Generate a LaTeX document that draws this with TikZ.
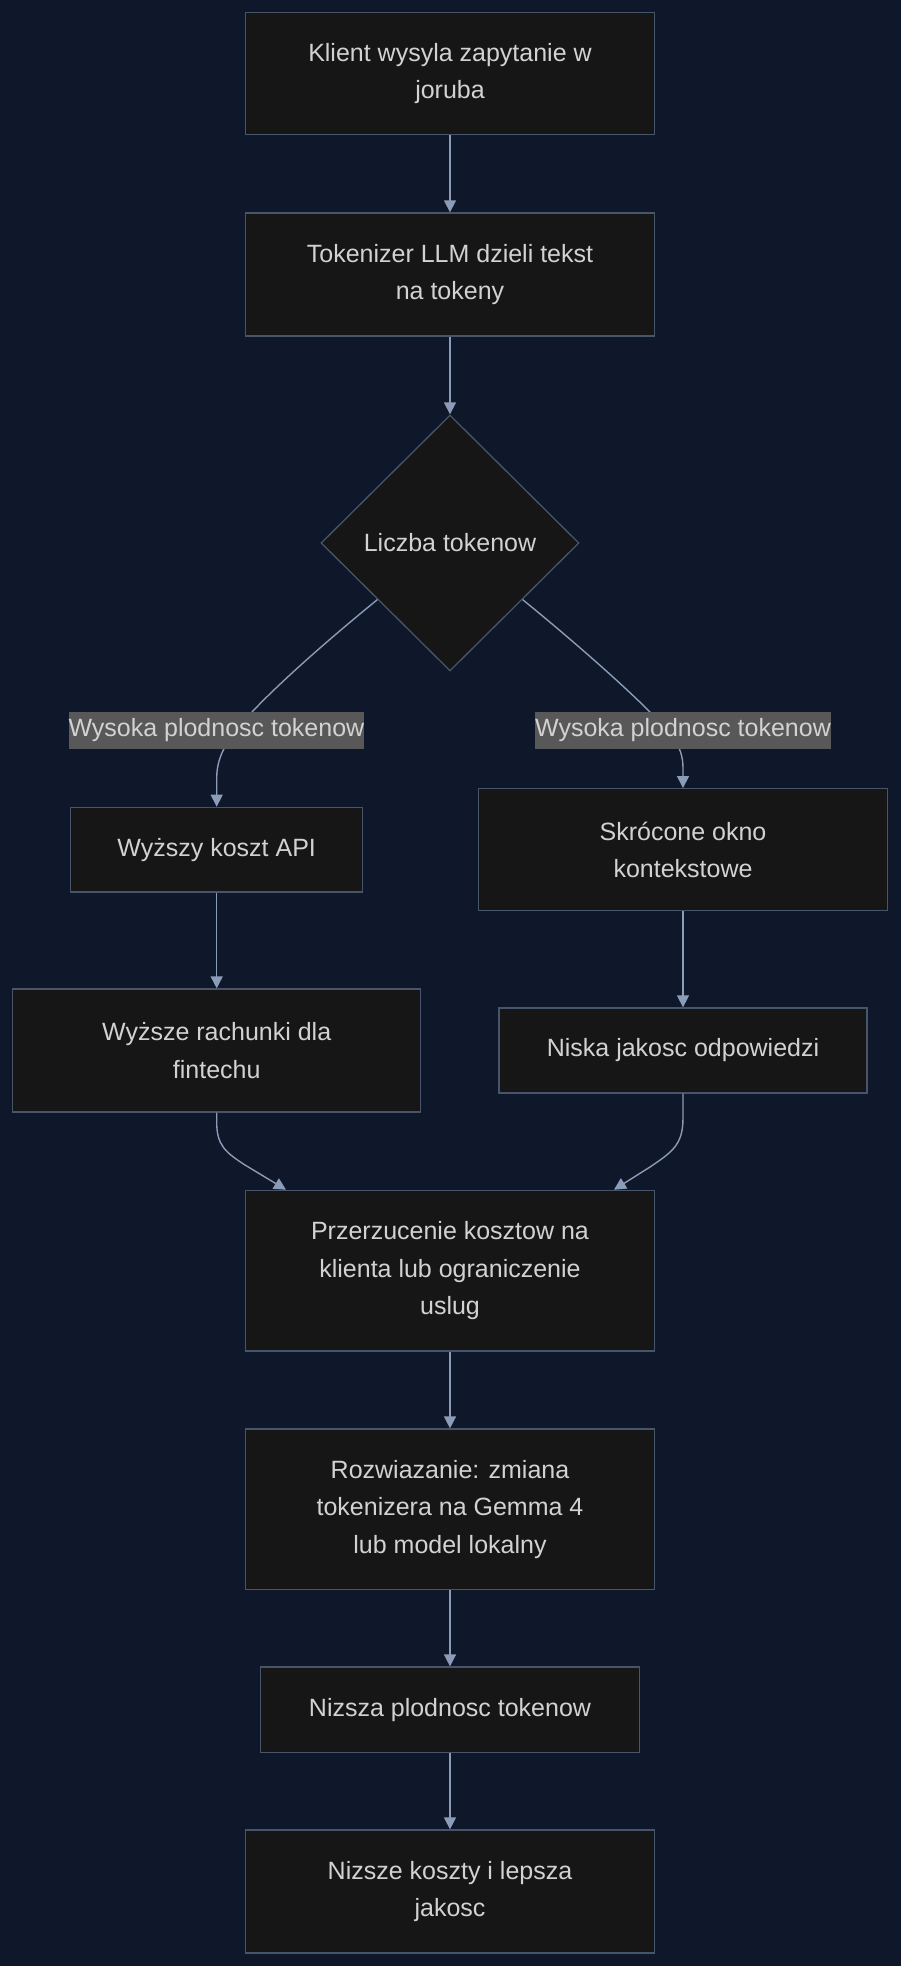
\documentclass[tikz,border=0pt]{standalone}
\usepackage{fontspec}
\setmainfont{Liberation Sans}
\usetikzlibrary{shapes.geometric,arrows.meta,calc}
\definecolor{bgcol}{RGB}{15,23,42}
\definecolor{nodefill}{RGB}{22,22,22}
\definecolor{bordercol}{RGB}{70,85,105}
\definecolor{edgecol}{RGB}{139,156,184}
\definecolor{textcol}{RGB}{210,210,210}
\definecolor{labelfill}{RGB}{88,88,88}
\tikzset{
  box/.style={draw=bordercol, fill=nodefill, line width=1.3pt, align=center,
    text=textcol, inner sep=0pt, font=\fontsize{25}{37.5}\selectfont},
  decision/.style={box, diamond, aspect=1},
  elabel/.style={fill=labelfill, text=textcol, inner xsep=0pt, inner ysep=0pt,
    minimum height=37pt, font=\fontsize{25}{30}\selectfont},
  conn/.style={draw=edgecol, line width=1.4pt, -{Triangle[length=12pt,width=12pt]}}
}
\begin{document}
\begin{tikzpicture}[x=1pt,y=-1pt]
\useasboundingbox (0,0) rectangle (900,1966);
\fill[bgcol] (-10,-10) rectangle (910,1976);

\node[box, minimum width=408.6pt, minimum height=122.4pt] (n1) at (450,73.5) {Klient wysyla zapytanie w\\joruba};
\node[box, minimum width=408.6pt, minimum height=123pt] (n2) at (450,274.5) {Tokenizer LLM dzieli tekst\\na tokeny};
\node[decision, minimum width=258pt, minimum height=256pt] (d) at (450,543) {Liczba tokenow};
\node[box, minimum width=292pt, minimum height=84.7pt] (n3) at (216.7,849.7) {Wyższy koszt API};
\node[box, minimum width=408.6pt, minimum height=122pt] (n4) at (683,849.7) {Skrócone okno\\kontekstowe};
\node[box, minimum width=408.2pt, minimum height=123pt] (n5) at (216.7,1050.5) {Wyższe rachunki dla\\fintechu};
\node[box, minimum width=368pt, minimum height=85pt] (n6) at (683,1050.5) {Niska jakosc odpowiedzi};
\node[box, minimum width=408.7pt, minimum height=160.7pt] (n7) at (450,1270.7) {Przerzucenie kosztow na\\klienta lub ograniczenie\\uslug};
\node[box, minimum width=408.7pt, minimum height=160.5pt] (n8) at (450,1509.3) {Rozwiazanie: zmiana\\tokenizera na Gemma 4\\lub model lokalny};
\node[box, minimum width=378.6pt, minimum height=85.5pt] (n9) at (450,1709.8) {Nizsza plodnosc tokenow};
\node[box, minimum width=408.7pt, minimum height=123pt] (n10) at (450,1891.5) {Nizsze koszty i lepsza\\jakosc};

\path[conn] (n1.south) -- (n2.north);
\path[conn] (n2.south) -- (d.north);

\coordinate (dl) at ($(d.west)!0.44!(d.south)$);
\coordinate (dr) at ($(d.east)!0.44!(d.south)$);
\path[conn] (dl) .. controls (340,630) and (285,677) .. (252,712) .. controls (232,734) and (216.7,752) .. (216.7,778) -- (n3.north);
\path[conn] (dr) .. controls (560,630) and (615,677) .. (650,712) .. controls (670,732) and (683,745) .. (683,768) -- (n4.north);

\node[elabel] (la) at (216.4,730.5) {Wysoka plodnosc tokenow};
\node[elabel] (ra) at (683,730.5) {Wysoka plodnosc tokenow};

\path[conn] (n3.south) -- (n5.north);
\path[conn] (n4.south) -- (n6.north);

\coordinate (m1) at ($(n7.north west)!0.1!(n7.north east)$);
\coordinate (m2) at ($(n7.north west)!0.9!(n7.north east)$);
\path[conn] (n5.south) -- (216.7,1122) .. controls (216.7,1145) and (225,1152) .. (245,1165) -- (m1);
\path[conn] (n6.south) -- (683,1118) .. controls (683,1145) and (672,1152) .. (650,1167) -- (m2);

\path[conn] (n7.south) -- (n8.north);
\path[conn] (n8.south) -- (n9.north);
\path[conn] (n9.south) -- (n10.north);
\end{tikzpicture}
\end{document}
